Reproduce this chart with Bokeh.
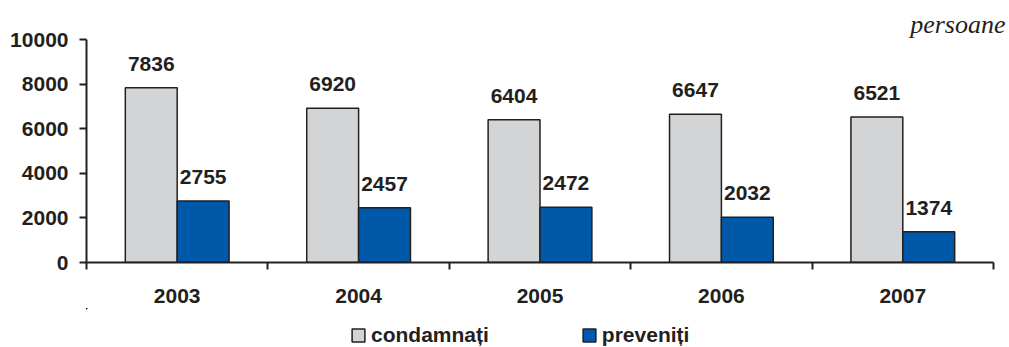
from bokeh.plotting import figure
from bokeh.layouts import column
from bokeh.models import (ColumnDataSource, FixedTicker, LabelSet, Legend, LegendItem, Range1d, Title)
from bokeh.core.properties import value
from bokeh.embed import file_html
from bokeh.resources import INLINE

years = ["2003", "2004", "2005", "2006", "2007"]
condamnati = [7836, 6920, 6404, 6647, 6521]
preveniti = [2755, 2457, 2472, 2032, 1374]
y_ticks = [0, 2000, 4000, 6000, 8000, 10000]
series_names = ["condamnați", "preveniți"]

GRAY = "#d3d4d6"
BLUE = "#0058a8"
DARK = "#231f20"
FONT = "Liberation Sans"
FS = "21px"

bw = 0.286
centers = [i + 0.5 for i in range(len(years))]
src = ColumnDataSource(dict(
    xg=[c - bw / 2 for c in centers],
    xb=[c + bw / 2 for c in centers],
    cond=condamnati,
    prev=preveniti,
    cl=[str(v) for v in condamnati],
    pl=[str(v) for v in preveniti],
))

p = figure(frame_width=907, frame_height=223, output_backend="svg", toolbar_location=None,
           x_range=Range1d(0, len(years)), y_range=Range1d(0, 10000),
           min_border_left=86, min_border_right=14, min_border_top=39, min_border_bottom=46)
p.outline_line_color = None
p.xgrid.visible = False
p.ygrid.visible = False

t = Title(text="persoane", align="right", text_font="Liberation Serif", text_font_style="italic",
          text_font_size="26px", text_color=DARK, standoff=1, offset=-12)
p.add_layout(t, "above")

r1 = p.vbar(x="xg", top="cond", width=bw, source=src, fill_color=GRAY, line_color=DARK, line_width=1.5)
r2 = p.vbar(x="xb", top="prev", width=bw, source=src, fill_color=BLUE, line_color=DARK, line_width=1.5)

for col, ycol, lab in (("xg", "cond", "cl"), ("xb", "prev", "pl")):
    p.add_layout(LabelSet(x=col, y=ycol, text=lab, source=src,
                          text_align="center", text_baseline="alphabetic", y_offset=17,
                          text_font=value(FONT), text_font_style="bold", text_font_size=FS,
                          text_color=DARK))

xt = FixedTicker(ticks=centers, minor_ticks=list(range(len(years) + 1)))
p.xaxis.ticker = xt
p.xaxis.major_label_overrides = {c: y for c, y in zip(centers, years)}
p.xaxis.major_tick_out = 0
p.xaxis.major_tick_in = 0
p.xaxis.minor_tick_out = 7
p.xaxis.minor_tick_in = 0
p.xaxis.major_label_standoff = 19
p.yaxis.ticker = FixedTicker(ticks=y_ticks)
p.yaxis.major_tick_out = 7
p.yaxis.major_tick_in = 0
p.yaxis.major_label_standoff = 11
for ax in (p.xaxis, p.yaxis):
    ax.axis_line_color = DARK
    ax.axis_line_width = 2
    ax.major_tick_line_color = DARK
    ax.major_tick_line_width = 2
    ax.minor_tick_line_width = 2
    ax.major_label_text_font = FONT
    ax.major_label_text_font_style = "bold"
    ax.major_label_text_font_size = FS
    ax.major_label_text_color = DARK
p.xaxis.minor_tick_line_color = DARK
p.yaxis.minor_tick_line_color = None

# legend strip below the chart (its bars lie outside its visible ranges)
p2 = figure(width=1007, height=39, output_backend="svg", toolbar_location=None,
            x_range=Range1d(100, 101), y_range=Range1d(-2, -1),
            min_border_left=0, min_border_right=0, min_border_top=0, min_border_bottom=0)
p2.axis.visible = False
p2.grid.visible = False
p2.outline_line_color = None
lg1 = p2.vbar(x="xg", top="cond", width=bw, source=src, fill_color=GRAY, line_color=DARK, line_width=1.5)
lg2 = p2.vbar(x="xb", top="prev", width=bw, source=src, fill_color=BLUE, line_color=DARK, line_width=1.5)

legend = Legend(items=[LegendItem(label=series_names[0], renderers=[lg1], index=0),
                       LegendItem(label=series_names[1], renderers=[lg2], index=0)],
                orientation="horizontal", location=(264, 0),
                glyph_width=16, glyph_height=16, label_standoff=5, spacing=92,
                label_text_font=FONT, label_text_font_style="bold", label_text_font_size=FS,
                label_text_color=DARK, border_line_color=None, background_fill_alpha=0,
                padding=0, margin=0)
p2.add_layout(legend)

open("out.html", "w").write(file_html(column(p, p2, spacing=0), INLINE))
